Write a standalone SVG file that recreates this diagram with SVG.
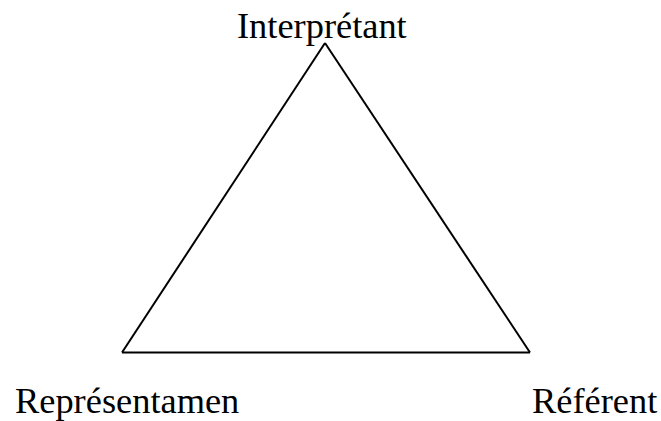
<svg xmlns="http://www.w3.org/2000/svg" width="661" height="421" viewBox="0 0 661 421">
<style>
.lbl{font-family:"Liberation Serif","Times New Roman",serif;font-size:36.4px;fill:#000}
.edge{stroke:#000;stroke-width:2;fill:none;stroke-linejoin:miter}
</style>
<rect width="661" height="421" fill="#fff"/>
<g id="connectors">
<line class="edge" x1="325" y1="43" x2="122" y2="352.5"/>
<line class="edge" x1="122" y1="352.5" x2="530" y2="352.5"/>
<line class="edge" x1="530" y1="352.5" x2="325" y2="43"/>
</g>
<g id="interpretant"><text class="lbl" x="237" y="38">Interprétant</text></g>
<g id="representamen"><text class="lbl" x="15" y="412.5">Représentamen</text></g>
<g id="referent"><text class="lbl" x="532" y="412.5">Référent</text></g>
</svg>
